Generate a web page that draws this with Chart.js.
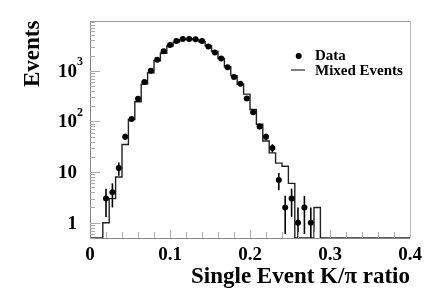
<!DOCTYPE html>
<html>
<head>
<meta charset="utf-8">
<script src="https://cdn.jsdelivr.net/npm/chart.js@4.4.0/dist/chart.umd.min.js"></script>
<style>
  html, body { margin: 0; padding: 0; background: #fff; }
  canvas { display: block; }
</style>
</head>
<body>
<canvas id="kpiChart" width="437" height="299"></canvas>
<script>
// data points (bin centres) with their error bars
var dataX = [0.020, 0.028, 0.036, 0.044, 0.052, 0.060, 0.068, 0.076, 0.084, 0.092,
             0.100, 0.108, 0.116, 0.124, 0.132, 0.140, 0.148, 0.156, 0.164, 0.172,
             0.180, 0.188, 0.196, 0.204, 0.212, 0.220, 0.228, 0.236, 0.244, 0.252,
             0.260, 0.268, 0.276];
var dataY = [3, 4, 12, 50, 112, 280, 600, 1000, 1650, 2430,
             3220, 3850, 4250, 4250, 4180, 3850, 3000, 2300, 1750, 1170,
             750, 555, 285, 152, 79, 50, 30, 7, 2, 3,
             1, 2, 1];
var dataErr = [1.7, 2, 3.5, 7.1, 10.6, 16.7, 24.5, 31.6, 40.6, 49.3,
               56.7, 62, 65.2, 65.2, 64.7, 62, 54.8, 48, 41.8, 34.2,
               27.4, 23.6, 16.9, 12.3, 8.9, 7.1, 5.5, 2.6, 1.4, 1.7,
               1, 1.4, 1];

// mixed events histogram: lower bin edges and contents
var histEdges = [0, 0.016, 0.024, 0.032, 0.040, 0.048, 0.056, 0.064, 0.072, 0.080,
                 0.088, 0.096, 0.104, 0.112, 0.120, 0.128, 0.136, 0.144, 0.152, 0.160,
                 0.168, 0.176, 0.184, 0.192, 0.200, 0.208, 0.216, 0.224, 0.232, 0.240,
                 0.248, 0.256, 0.280, 0.288, 0.4];
var histValues = [0, 1, 3, 8, 35, 109, 244, 546, 912, 1578,
                  2212, 3085, 3700, 4150, 4250, 4100, 3750, 3100, 2400, 1750,
                  1200, 800, 540, 346, 172, 88, 41, 24, 15, 13,
                  6, 0, 2, 0, 0];

var xTicks = [0, 0.1, 0.2, 0.3, 0.4];
var xTickLabels = ['0', '0.1', '0.2', '0.3', '0.4'];
var yTicks = [1, 10, 100, 1000];
var yTickLabels = ['1', '10', '10', '10'];
var yTickSup = ['', '', '2', '3'];
var yMin = 0.5, yMax = 9600;

var serif = '"Liberation Serif", "Times New Roman", serif';

var rootFrame = {
  id: 'rootFrame',
  afterDatasetsDraw: function(chart) {
    var ctx = chart.ctx, a = chart.chartArea, x = chart.scales.x, y = chart.scales.y;
    ctx.save();
    ctx.strokeStyle = '#000';
    ctx.lineWidth = 1.6;
    for (var i = 0; i < dataX.length; i++) {
      var px = x.getPixelForValue(dataX[i]);
      var lo = dataY[i] - dataErr[i];
      var top = y.getPixelForValue(dataY[i] + dataErr[i]);
      var bot = lo > y.min ? y.getPixelForValue(lo) : a.bottom;
      ctx.beginPath();
      ctx.moveTo(px, top);
      ctx.lineTo(px, bot);
      ctx.stroke();
    }
    ctx.restore();
  },
  afterDraw: function(chart) {
    var ctx = chart.ctx, a = chart.chartArea, x = chart.scales.x, y = chart.scales.y;
    ctx.save();

    // frame
    ctx.lineWidth = 1;
    ctx.strokeStyle = '#a09494';
    ctx.beginPath();
    ctx.moveTo(a.left, a.top + 0.5);
    ctx.lineTo(a.right, a.top + 0.5);
    ctx.stroke();
    ctx.strokeStyle = '#bbb';
    ctx.beginPath();
    ctx.moveTo(a.right + 0.5, a.top);
    ctx.lineTo(a.right + 0.5, a.bottom);
    ctx.stroke();
    ctx.strokeStyle = '#888';
    ctx.beginPath();
    ctx.moveTo(a.left + 0.5, a.top);
    ctx.lineTo(a.left + 0.5, a.bottom + 0.5);
    ctx.lineTo(a.right, a.bottom + 0.5);
    ctx.stroke();

    // y ticks, drawn inside the frame
    ctx.strokeStyle = '#aaa';
    var d, m, v, py;
    for (d = 0.1; d <= 1000; d *= 10) {
      for (m = 1; m <= 9; m++) {
        v = d * m;
        if (v < y.min || v > y.max) continue;
        py = Math.round(y.getPixelForValue(v)) + 0.5;
        ctx.beginPath();
        ctx.moveTo(a.left, py);
        ctx.lineTo(a.left + (m === 1 ? 10 : 5), py);
        ctx.stroke();
      }
    }
    // x ticks
    for (var k = 1; k < 20; k++) {
      var px = Math.round(x.getPixelForValue(k * 0.02)) + 0.5;
      ctx.beginPath();
      ctx.moveTo(px, a.bottom);
      ctx.lineTo(px, a.bottom - (k % 5 === 0 ? 8 : 6));
      ctx.stroke();
    }

    // tick labels
    ctx.fillStyle = '#000';
    ctx.textBaseline = 'alphabetic';
    ctx.font = 'bold 19px ' + serif;
    ctx.textAlign = 'center';
    for (var i = 0; i < xTicks.length; i++) {
      ctx.fillText(xTickLabels[i], x.getPixelForValue(xTicks[i]), 260);
    }
    for (i = 0; i < yTicks.length; i++) {
      py = y.getPixelForValue(yTicks[i]);
      ctx.font = 'bold 19px ' + serif;
      ctx.textAlign = 'right';
      ctx.fillText(yTickLabels[i], 77, py + 6);
      if (yTickSup[i]) {
        ctx.font = 'bold 12px ' + serif;
        ctx.textAlign = 'left';
        ctx.fillText(yTickSup[i], 77, py - 5.5);
      }
    }

    // axis titles
    ctx.font = 'bold 23px ' + serif;
    ctx.textAlign = 'right';
    ctx.fillText('Single Event K/\u03c0 ratio', a.right, 283);
    ctx.save();
    ctx.translate(39, 87);
    ctx.rotate(-Math.PI / 2);
    ctx.textAlign = 'left';
    ctx.fillText('Events', 0, 0);
    ctx.restore();

    // legend
    ctx.beginPath();
    ctx.arc(298.7, 56, 3, 0, Math.PI * 2);
    ctx.fill();
    ctx.strokeStyle = '#555';
    ctx.lineWidth = 1.5;
    ctx.beginPath();
    ctx.moveTo(291, 70);
    ctx.lineTo(305, 70);
    ctx.stroke();
    ctx.font = 'bold 15px ' + serif;
    ctx.textAlign = 'left';
    ctx.fillText('Data', 315, 60);
    ctx.fillText('Mixed Events', 315, 75);

    ctx.restore();
  }
};

var ctx = document.getElementById('kpiChart').getContext('2d');
var kpiChart = new Chart(ctx, {
  type: 'scatter',
  data: {
    datasets: [{
      label: 'Data',
      data: dataX.map(function(v, i) { return {x: v, y: dataY[i]}; }),
      pointRadius: 3,
      pointBackgroundColor: '#000',
      pointBorderWidth: 0,
      showLine: false,
      order: 0
    }, {
      label: 'Mixed Events',
      // empty bins sit on the bottom of the log axis
      data: histEdges.map(function(v, i) { return {x: v, y: histValues[i] > 0 ? histValues[i] : yMin}; }),
      showLine: true,
      stepped: 'before',
      pointRadius: 0,
      borderColor: '#222',
      borderWidth: 1.4,
      fill: false,
      order: 1
    }]
  },
  options: {
    responsive: false,
    animation: false,
    layout: { padding: { left: 90, right: 27, top: 21, bottom: 61 } },
    plugins: { legend: { display: false }, tooltip: { enabled: false } },
    scales: {
      x: { type: 'linear', min: 0, max: 0.4, display: false },
      y: { type: 'logarithmic', min: yMin, max: yMax, display: false }
    }
  },
  plugins: [rootFrame]
});
</script>
</body>
</html>
